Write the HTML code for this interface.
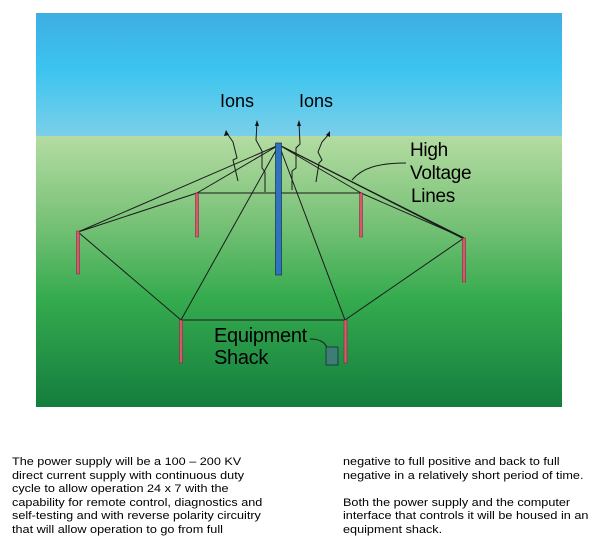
<!DOCTYPE html>
<html><head><style>
body{margin:0;width:600px;height:550px;background:#fff;position:relative;font-family:"Liberation Sans",Arial,sans-serif;overflow:hidden}
.c{position:absolute;font-size:11px;line-height:13.6px;color:#000;transform:scaleX(1.15);transform-origin:0 0;white-space:nowrap}
</style></head><body>
<svg width="600" height="420" style="position:absolute;left:0;top:0">
<defs>
<linearGradient id="sky" x1="0" y1="0" x2="0" y2="1">
<stop offset="0" stop-color="#3eaee2"/><stop offset="0.4" stop-color="#3cc4f0"/><stop offset="1" stop-color="#8dd3e6"/></linearGradient>
<linearGradient id="gr" x1="0" y1="0" x2="0" y2="1">
<stop offset="0" stop-color="#b4dca2"/><stop offset="0.3" stop-color="#7cc37a"/><stop offset="0.6" stop-color="#35ab4e"/><stop offset="1" stop-color="#147d3e"/></linearGradient>
</defs>
<rect x="36" y="13" width="526" height="143" fill="url(#sky)"/>
<rect x="36" y="136" width="526" height="271" fill="url(#gr)"/>
<g stroke="#1a1a1a" stroke-width="1" fill="none">
<line x1="279" y1="145" x2="78" y2="232"/>
<line x1="279" y1="145" x2="197" y2="193"/>
<line x1="279" y1="145" x2="181" y2="320"/>
<line x1="279" y1="145" x2="345" y2="320"/>
<line x1="279" y1="145" x2="361" y2="193"/>
<line x1="279" y1="145" x2="464" y2="238"/>
<line x1="283" y1="147" x2="464" y2="239"/>
<line x1="78" y1="232" x2="197" y2="193"/>
<line x1="464" y1="238" x2="361" y2="193"/>
<line x1="197" y1="193" x2="361" y2="193"/>
<line x1="78" y1="232" x2="181" y2="320"/>
<line x1="464" y1="238" x2="345" y2="320"/>
<line x1="181" y1="320" x2="345" y2="320"/>
<path d="M238,181 L233,160 L237,158 L233,142 L226,132"/>
<path d="M265,192 L265,172 L262,168 L262,151 L256,140 L257,123"/>
<path d="M292,190 L292,171 L296,168 L296,148 L300,144 L299,123"/>
<path d="M316,182 L319,163 L322,160 L318,152 L322,142 L329,134"/>
<path d="M352,180 C362,168 378,163 406,163"/>
<path d="M310,339 C320,339 325,342 327,348"/>
</g>
<g fill="#111"><polygon points="226,130 224,136 229,135"/><polygon points="257,120 255,126 259,126"/><polygon points="299,120 297,126 301,126"/><polygon points="330,131 326,135 330,137"/></g>
<g fill="#d8576e" stroke="#7a2030" stroke-width="0.5">
<rect x="76.5" y="231" width="3" height="43"/><rect x="195.5" y="193" width="3" height="44"/>
<rect x="359.5" y="193" width="3" height="44"/><rect x="462.5" y="238" width="3" height="44"/>
<rect x="179.5" y="320" width="3" height="43"/><rect x="344" y="320" width="3" height="43"/>
</g>
<rect x="275.5" y="143" width="6" height="132" fill="#2f73c0" stroke="#123" stroke-width="0.6"/>
<rect x="326" y="347" width="12" height="18" fill="#3d7d73" stroke="#123" stroke-width="0.7"/>
<g font-family="Liberation Sans,Arial,sans-serif" fill="#000">
<text x="220" y="107" font-size="18">Ions</text><text x="299" y="107" font-size="18">Ions</text>
<g font-size="19" letter-spacing="-0.3">
<text x="410" y="156">High</text><text x="410" y="179">Voltage</text><text x="411" y="202">Lines</text></g>
<g font-size="20" letter-spacing="-0.3">
<text x="214" y="342">Equipment</text><text x="214" y="364">Shack</text></g>
</g>
</svg>
<div class="c" style="left:12px;top:456px">The power supply will be a 100 – 200 KV<br>direct current supply with continuous duty<br>cycle to allow operation 24 x 7 with the<br>capability for remote control, diagnostics and<br>self-testing and with reverse polarity circuitry<br>that will allow operation to go from full</div>
<div class="c" style="left:343px;top:456px">negative to full positive and back to full<br>negative in a relatively short period of time.<br><br>Both the power supply and the computer<br>interface that controls it will be housed in an<br>equipment shack.</div>
</body></html>
